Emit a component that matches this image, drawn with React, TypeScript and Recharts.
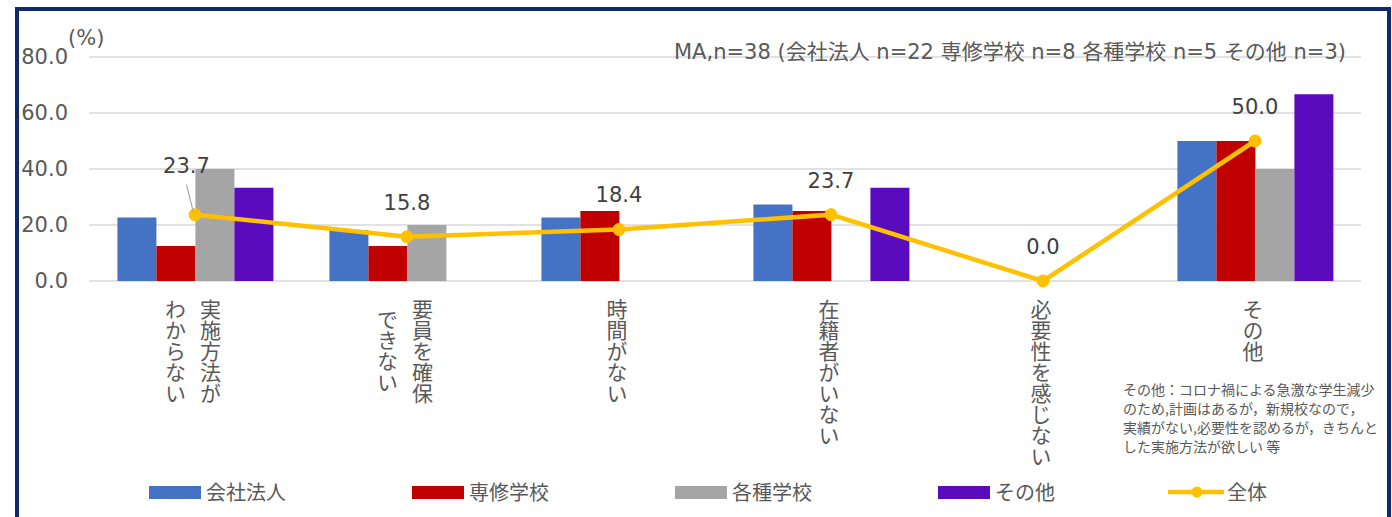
import {
  Bar,
  CartesianGrid,
  ComposedChart,
  LabelList,
  Legend,
  Line,
  XAxis,
  YAxis,
} from "recharts";

const categoryLines = [
  ["実施方法が", "わからない"],
  ["要員を確保", "できない"],
  ["時間がない"],
  ["在籍者がいない"],
  ["必要性を感じない"],
  ["その他"],
];

const kaishaHojin = [22.7, 18.2, 22.7, 27.3, 0, 50.0];
const senshuGakko = [12.5, 12.5, 25.0, 25.0, 0, 50.0];
const kakushuGakko = [40.0, 20.0, 0, 0, 0, 40.0];
const sonota = [33.3, 0, 0, 33.3, 0, 66.7];
const zentai = [23.7, 15.8, 18.4, 23.7, 0.0, 50.0];

const yTicks = [0, 20, 40, 60, 80];

const sampleNote = "MA,n=38 (会社法人 n=22 専修学校 n=8 各種学校 n=5 その他 n=3)";
const otherNoteLines = [
  "その他：コロナ禍による急激な学生減少",
  "のため,計画はあるが，新規校なので，",
  "実績がない,必要性を認めるが，きちんと",
  "した実施方法が欲しい 等",
];

const chartData = categoryLines.map((lines, i) => ({
  name: lines.join(""),
  kaisha: kaishaHojin[i],
  senshu: senshuGakko[i],
  kakushu: kakushuGakko[i],
  sonota: sonota[i],
  zentai: zentai[i],
}));

const colors = {
  kaisha: "#4472C4",
  senshu: "#C00000",
  kakushu: "#A5A5A5",
  sonota: "#5A0BBD",
  zentai: "#FFC000",
  grid: "#D9D9D9",
  text: "#595959",
  label: "#404040",
  frame: "#0E2A6C",
};

const latinFont = "'DejaVu Sans', 'Noto Sans CJK JP', sans-serif";
const cjkFont = "'Noto Sans CJK JP', sans-serif";

const legendItems = [
  { name: "会社法人", color: colors.kaisha, left: 149, kind: "bar" },
  { name: "専修学校", color: colors.senshu, left: 412, kind: "bar" },
  { name: "各種学校", color: colors.kakushu, left: 675, kind: "bar" },
  { name: "その他", color: colors.sonota, left: 938, kind: "bar" },
  { name: "全体", color: colors.zentai, left: 1168, kind: "line" },
];

// vertical category labels, first line on the right, lines centred on each other
function CategoryTick({ x, y, payload }: any) {
  const lines = categoryLines[payload.index] ?? [String(payload.value)];
  const maxLen = Math.max(...lines.map((l) => [...l].length));
  const pitch = 21;
  const colGap = 35;
  const right = x - 2 + ((lines.length - 1) * colGap) / 2;
  return (
    <g>
      {lines.map((line, li) => {
        const len = [...line].length;
        const top = y + 28 - pitch / 2 + ((maxLen - len) * pitch) / 2;
        return (
          <text
            key={li}
            x={right - li * colGap}
            y={top}
            fontSize={21}
            fontFamily={cjkFont}
            fill={colors.text}
            style={{ writingMode: "vertical-rl" }}
          >
            {line}
          </text>
        );
      })}
    </g>
  );
}

function TotalLabel(props: any) {
  const { x, y, value, index } = props;
  const text = Number(value).toFixed(1);
  if (index === 0) {
    // first label is pulled up-left with a leader line, like the original
    return (
      <g>
        <line x1={x - 8.5} y1={y - 30} x2={x - 1.5} y2={y - 2} stroke="#A6A6A6" strokeWidth={1.2} />
        <text
          x={x - 8.5}
          y={y - 49 + 7.5}
          textAnchor="middle"
          fontSize={21}
          fontFamily={latinFont}
          fill={colors.label}
        >
          {text}
        </text>
      </g>
    );
  }
  return (
    <text
      x={x}
      y={y - 34.5 + 7.5}
      textAnchor="middle"
      fontSize={21}
      fontFamily={latinFont}
      fill={colors.label}
    >
      {text}
    </text>
  );
}

function LegendRow() {
  return (
    <div style={{ position: "relative", width: 1392, height: 30 }}>
      {legendItems.map((item) => (
        <div
          key={item.name}
          style={{
            position: "absolute",
            left: item.left,
            top: 0,
            height: 30,
            display: "flex",
            alignItems: "center",
          }}
        >
          {item.kind === "bar" ? (
            <span style={{ width: 52, height: 13, background: item.color, marginRight: 5 }} />
          ) : (
            <svg width={56} height={14} style={{ marginRight: 3 }}>
              <line x1={1} y1={7} x2={55} y2={7} stroke={item.color} strokeWidth={4.5} strokeLinecap="round" />
              <circle cx={29} cy={7} r={5.5} fill={item.color} />
            </svg>
          )}
          <span style={{ fontFamily: cjkFont, fontSize: 20, color: colors.text, lineHeight: "30px" }}>
            {item.name}
          </span>
        </div>
      ))}
    </div>
  );
}

export default function App() {
  return (
    <div
      style={{
        position: "relative",
        width: 1392,
        height: 517,
        overflow: "hidden",
        background: "#fff",
      }}
    >
      <style>{`body{margin:0;}`}</style>
      <ComposedChart
        width={1392}
        height={517}
        data={chartData}
        margin={{ top: 57, right: 31, left: 0, bottom: 10 }}
        barGap={0}
        barCategoryGap="13.4%"
      >
        <CartesianGrid stroke={colors.grid} strokeWidth={1.6} vertical={false} />
        <XAxis
          dataKey="name"
          axisLine={false}
          tickLine={false}
          tickSize={0}
          tickMargin={0}
          interval={0}
          height={196}
          tick={<CategoryTick />}
        />
        <YAxis
          width={89}
          domain={[0, 80]}
          ticks={yTicks}
          axisLine={false}
          tickLine={false}
          tickSize={0}
          tickMargin={21}
          tick={{ fill: colors.text, fontSize: 21, fontFamily: latinFont }}
          tickFormatter={(v) => Number(v).toFixed(1)}
        />
        <Legend
          verticalAlign="bottom"
          content={() => <LegendRow />}
          wrapperStyle={{ left: 0, width: 1392 }}
        />
        <Bar dataKey="kaisha" name="会社法人" fill={colors.kaisha} isAnimationActive={false} />
        <Bar dataKey="senshu" name="専修学校" fill={colors.senshu} isAnimationActive={false} />
        <Bar dataKey="kakushu" name="各種学校" fill={colors.kakushu} isAnimationActive={false} />
        <Bar dataKey="sonota" name="その他" fill={colors.sonota} isAnimationActive={false} />
        <Line
          type="linear"
          dataKey="zentai"
          name="全体"
          stroke={colors.zentai}
          strokeWidth={4.5}
          dot={{ r: 6, fill: colors.zentai, stroke: colors.zentai, strokeWidth: 1 }}
          activeDot={false}
          isAnimationActive={false}
        >
          <LabelList dataKey="zentai" content={<TotalLabel />} />
        </Line>
      </ComposedChart>

      <div
        style={{
          position: "absolute",
          left: 68,
          top: 26,
          fontFamily: latinFont,
          fontSize: 21,
          lineHeight: "24px",
          color: colors.text,
        }}
      >
        (%)
      </div>
      <div
        style={{
          position: "absolute",
          right: 46,
          top: 40,
          fontFamily: latinFont,
          fontSize: 21,
          lineHeight: "24px",
          color: colors.text,
          whiteSpace: "nowrap",
        }}
      >
        {sampleNote}
      </div>
      <div
        style={{
          position: "absolute",
          left: 1123,
          top: 380,
          fontFamily: cjkFont,
          fontSize: 14,
          lineHeight: "19px",
          color: colors.text,
          whiteSpace: "pre",
        }}
      >
        {otherNoteLines.join("\n")}
      </div>
      <div
        style={{
          position: "absolute",
          left: 15,
          top: 7,
          width: 1376,
          height: 600,
          boxSizing: "border-box",
          border: `4px solid ${colors.frame}`,
          pointerEvents: "none",
        }}
      />
    </div>
  );
}
